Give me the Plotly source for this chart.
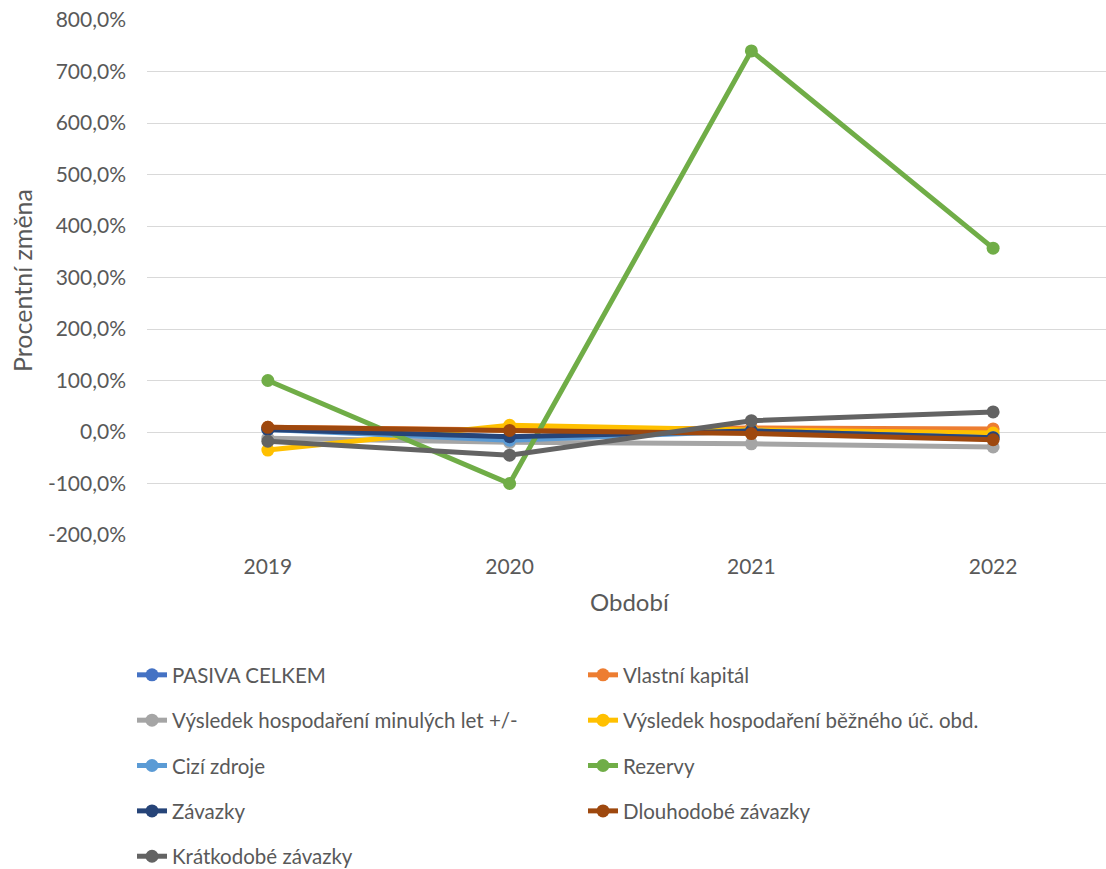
import plotly.graph_objects as go

years = ["2019", "2020", "2021", "2022"]

pasiva_celkem = [7, -10, 3, -8]
vlastni_kapital = [9, 4, 8, 6]
vh_minulych_let = [-12, -20, -23, -29]
vh_bezneho_obd = [-35, 13, 4, -2]
cizi_zdroje = [5, -16, 2, -11]
rezervy = [100, -100, 740, 357]
zavazky = [5, -9, 2, -11]
dlouhodobe_zavazky = [9, 3, -3, -15]
kratkodobe_zavazky = [-18, -45, 22, 39]

y_ticks = [-200, -100, 0, 100, 200, 300, 400, 500, 600, 700, 800]
y_tick_labels = ["-200,0%", "-100,0%", "0,0%", "100,0%", "200,0%", "300,0%",
                 "400,0%", "500,0%", "600,0%", "700,0%", "800,0%"]

series = [
    ("PASIVA CELKEM", pasiva_celkem, "#4472C4", "legend"),
    ("Vlastní kapitál", vlastni_kapital, "#ED7D31", "legend2"),
    ("Výsledek hospodaření minulých let +/-", vh_minulych_let, "#A5A5A5", "legend"),
    ("Výsledek hospodaření běžného úč. obd.", vh_bezneho_obd, "#FFC000", "legend2"),
    ("Cizí zdroje", cizi_zdroje, "#5B9BD5", "legend"),
    ("Rezervy", rezervy, "#70AD47", "legend2"),
    ("Závazky", zavazky, "#264478", "legend"),
    ("Dlouhodobé závazky", dlouhodobe_zavazky, "#9E480E", "legend2"),
    ("Krátkodobé závazky", kratkodobe_zavazky, "#636363", "legend"),
]

FONT = "Lato"
TXT = "#595959"

fig = go.Figure()
for i, (name, vals, col, lg) in enumerate(series):
    fig.add_trace(go.Scatter(
        x=years, y=vals, name=name, mode="lines+markers",
        line=dict(color=col, width=5),
        marker=dict(color=col, size=13),
        legend=lg, legendgroup=name,
    ))

leg_common = dict(
    orientation="v", xref="container", yref="container",
    xanchor="left", yanchor="top",
    font=dict(family=FONT, size=20.5, color=TXT),
    bgcolor="rgba(0,0,0,0)", tracegroupgap=15.7, itemwidth=30,
)

fig.update_layout(
    width=1106, height=869,
    margin=dict(l=147, r=0, t=20, b=334, autoexpand=False),
    paper_bgcolor="white", plot_bgcolor="white",
    font=dict(family=FONT, size=18, color=TXT),
    showlegend=True,
    legend=dict(x=132 / 1106, y=1 - 655 / 869, **leg_common),
    legend2=dict(x=583 / 1106, y=1 - 655 / 869, **leg_common),
    xaxis=dict(
        type="category", range=[-0.5, 3.467], automargin=False,
        showgrid=False, zeroline=False, showline=False, ticks="",
        ticklabelstandoff=17,
        tickfont=dict(family=FONT, size=21, color=TXT),
    ),
    yaxis=dict(
        range=[-200, 800], tickvals=y_ticks, ticktext=y_tick_labels, automargin=False,
        showgrid=True, gridcolor="#D9D9D9", gridwidth=1.3,
        zeroline=False, showline=False, ticks="",
        ticklabelstandoff=20,
        tickfont=dict(family=FONT, size=21, color=TXT),
    ),
    annotations=[
        dict(text="Období", xref="paper", yref="paper",
             x=(630 - 147) / 959, y=(535 - 601) / 515,
             xanchor="center", yanchor="middle", showarrow=False,
             font=dict(family=FONT, size=24, color=TXT)),
        dict(text="Procentní změna", xref="paper", yref="paper",
             x=(22 - 147) / 959, y=(535 - 281) / 515, textangle=-90,
             xanchor="center", yanchor="middle", showarrow=False,
             font=dict(family=FONT, size=25, color=TXT)),
    ],
)

fig.write_html("out.html")
